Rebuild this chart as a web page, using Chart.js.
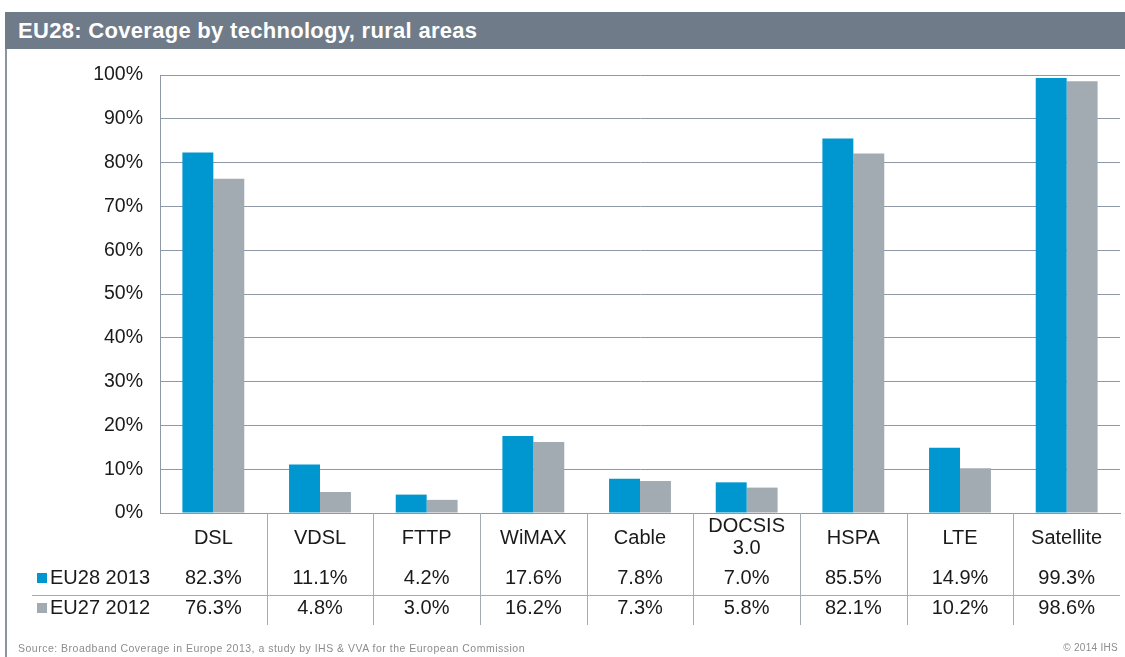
<!DOCTYPE html>
<html>
<head>
<meta charset="utf-8">
<script src="https://cdn.jsdelivr.net/npm/chart.js@4"></script>
<style>
  html, body { margin: 0; padding: 0; background: #fff; }
  #wrap { position: relative; width: 1125px; height: 657px; overflow: hidden; font-family: 'Liberation Sans', Arial, sans-serif; }
  #title { position: absolute; left: 5px; top: 12px; width: 1120px; height: 37px; background: #6f7b89; color: #fff;
    font-weight: bold; font-size: 22px; line-height: 37px; padding-left: 13px; box-sizing: border-box; letter-spacing: 0.3px; }
  #frame { position: absolute; left: 5px; top: 49px; width: 2px; height: 608px; background: #8a95a2; }
  #source { position: absolute; left: 18px; top: 642px; font-size: 10.5px; color: #8c8c8c; letter-spacing: 0.5px; }
  #copy { position: absolute; right: 7px; top: 642px; font-size: 10px; color: #8c8c8c; letter-spacing: 0.3px; }
  canvas { position: absolute; left: 0; top: 0; }
</style>
</head>
<body>
<div id="wrap">
  <canvas id="chart" width="1125" height="657"></canvas>
  <div id="title">EU28: Coverage by technology, rural areas</div>
  <div id="frame"></div>
  <div id="source">Source: Broadband Coverage in Europe 2013, a study by IHS &amp; VVA for the European Commission</div>
  <div id="copy">© 2014 IHS</div>
</div>
<script>
// カテゴリと系列データ
const categories = [['DSL'], ['VDSL'], ['FTTP'], ['WiMAX'], ['Cable'], ['DOCSIS', '3.0'], ['HSPA'], ['LTE'], ['Satellite']];
const seriesNames = ['EU28 2013', 'EU27 2012'];
const eu28_2013 = [82.3, 11.1, 4.2, 17.6, 7.8, 7.0, 85.5, 14.9, 99.3];
const eu27_2012 = [76.3, 4.8, 3.0, 16.2, 7.3, 5.8, 82.1, 10.2, 98.6];

const COLORS = {
  blue: '#0096d0',
  gray: '#a2abb2',
  grid: '#8d99a6',
  sep: '#a3abb3',
  text: '#1a1a1a',
};

const FONT = "'Liberation Sans', Arial, sans-serif";

// 下のデータ表（カテゴリ名・凡例・数値）を描くプラグイン
const dataTable = {
  id: 'dataTable',
  afterDraw(chart) {
    const { ctx } = chart;
    const x = chart.scales.x;
    const bottom = chart.chartArea.bottom;
    const rowY = [578, 608];
    ctx.save();

    // 縦の区切り線
    ctx.strokeStyle = COLORS.sep;
    ctx.lineWidth = 1;
    for (let i = 1; i < categories.length; i++) {
      const xs = Math.round((x.getPixelForValue(i - 1) + x.getPixelForValue(i)) / 2) + 0.5;
      ctx.beginPath();
      ctx.moveTo(xs, bottom);
      ctx.lineTo(xs, 625);
      ctx.stroke();
    }
    // 行の区切り線
    ctx.beginPath();
    ctx.moveTo(32, 595.5);
    ctx.lineTo(chart.chartArea.right, 595.5);
    ctx.stroke();

    ctx.fillStyle = COLORS.text;
    ctx.font = '20px ' + FONT;
    ctx.textAlign = 'center';
    ctx.textBaseline = 'middle';

    // カテゴリ名
    categories.forEach((lines, i) => {
      const cx = x.getPixelForValue(i);
      const lh = 22;
      const y0 = 538 - (lines.length - 1) * lh / 2 - (lines.length > 1 ? 1 : 0);
      lines.forEach((t, j) => ctx.fillText(t, cx, y0 + j * lh));
    });

    // 凡例と数値
    const rows = [eu28_2013, eu27_2012];
    const colors = [COLORS.blue, COLORS.gray];
    rows.forEach((vals, r) => {
      const y = rowY[r];
      ctx.fillStyle = colors[r];
      ctx.fillRect(37, y - 5, 10, 10);
      ctx.fillStyle = COLORS.text;
      ctx.textAlign = 'left';
      ctx.fillText(seriesNames[r], 50, y);
      ctx.textAlign = 'center';
      vals.forEach((v, i) => ctx.fillText(v.toFixed(1) + '%', x.getPixelForValue(i), y));
    });
    ctx.restore();
  },
};

new Chart(document.getElementById('chart'), {
  type: 'bar',
  data: {
    labels: categories.map(c => c.join(' ')),
    datasets: [
      {
        label: seriesNames[0],
        data: eu28_2013,
        backgroundColor: COLORS.blue,
        categoryPercentage: 0.58,
        barPercentage: 1,
      },
      {
        label: seriesNames[1],
        data: eu27_2012,
        backgroundColor: COLORS.gray,
        categoryPercentage: 0.58,
        barPercentage: 1,
      },
    ],
  },
  options: {
    responsive: false,
    animation: false,
    layout: { padding: { top: 75, right: 5, left: 0, bottom: 0 } },
    scales: {
      x: {
        grid: { display: false, drawTicks: false },
        border: { color: COLORS.grid, width: 1 },
        ticks: { display: false },
        afterFit: s => { s.height = 144; },
      },
      y: {
        min: 0,
        max: 100,
        grid: { color: COLORS.grid, drawTicks: false },
        border: { color: COLORS.grid, width: 1 },
        ticks: {
          stepSize: 10,
          padding: 17,
          color: COLORS.text,
          font: { family: FONT, size: 19.5 },
          callback: v => v + '%',
        },
        afterFit: s => { s.width = 160; },
      },
    },
    plugins: {
      legend: { display: false },
      tooltip: { enabled: false },
    },
  },
  plugins: [dataTable],
});
</script>
</body>
</html>
